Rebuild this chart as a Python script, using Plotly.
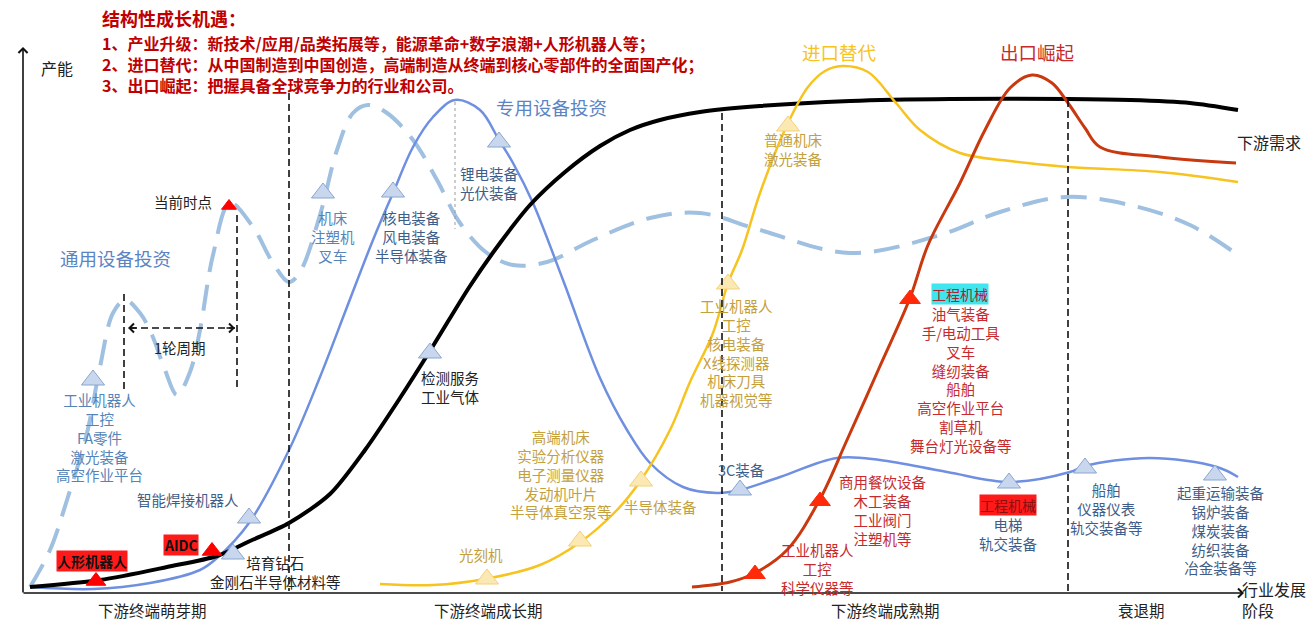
import plotly.graph_objects as go

# ---------------- curves (x: industry stage, y: capacity, screen-style units) ----------------
# downstream demand (S-curve)
demand_x = [30, 100, 167, 217, 250, 289, 330, 365, 400, 433, 470, 500, 530, 565, 600, 630, 660, 700, 760, 850,
            950, 1068, 1130, 1190, 1238]
demand_y = [587, 580, 567, 556, 541, 523, 494, 450, 398, 346, 286, 243, 205, 172, 146, 130, 120, 112, 106, 101,
            99, 99, 100, 103, 110]

# special-purpose equipment investment
special_x = [30, 93, 150, 200, 217, 249, 289, 320, 347, 373, 393, 413, 433, 455, 480, 499, 513, 533, 563, 600,
             627, 650, 683, 717, 740, 780, 837, 880, 947, 1010, 1070, 1085, 1150, 1217, 1238]
special_y = [587, 589, 583, 570, 558, 523, 450, 377, 307, 240, 193, 147, 117, 100, 110, 140, 163, 203, 280, 378,
             430, 463, 487, 493, 490, 477, 458, 460, 472, 482, 472, 466, 458, 467, 477]

# general-purpose equipment investment (cyclical)
general_x = [30, 50, 67, 87, 100, 113, 125, 140, 152, 165, 177, 190, 200, 213, 230, 253, 273, 289, 300, 320, 337,
             353, 368, 387, 413, 437, 460, 487, 513, 547, 593, 650, 700, 760, 850, 940, 1000, 1065, 1130, 1190, 1238]
general_y = [587, 550, 500, 433, 367, 313, 300, 313, 335, 370, 395, 372, 330, 255, 203, 227, 263, 282, 272, 215, 150,
             113, 105, 113, 140, 180, 223, 253, 265, 262, 240, 218, 213, 230, 253, 235, 212, 197, 205, 225, 255]

# import substitution
import_x = [380, 433, 485, 540, 579, 617, 641, 670, 690, 713, 728, 742, 760, 788, 808, 825, 842, 868, 896, 920,
            960, 1010, 1068, 1160, 1238]
import_y = [584, 585, 579, 565, 543, 510, 480, 430, 382, 333, 283, 250, 193, 123, 87, 71, 66, 72, 103, 130,
            153, 161, 167, 172, 182]

# export rise
export_x = [692, 730, 755, 787, 820, 847, 880, 910, 928, 960, 985, 1010, 1032, 1052, 1068, 1085, 1100, 1160, 1236]
export_y = [587, 582, 573, 550, 499, 440, 366, 298, 245, 183, 130, 88, 75, 83, 103, 128, 147, 157, 163]

# ---------------- stages ----------------
stage_bounds = [289, 722, 1068]
stage_bound_top = [93, 113, 100]
stage_names = ["下游终端萌芽期", "下游终端成长期", "下游终端成熟期", "衰退期"]
stage_label_x = [152, 488, 885, 1141]

# ---------------- marked industries ----------------
blue_tri_x = [93, 249, 233, 323, 393, 499, 430, 740, 1009, 1085, 1215]
blue_tri_y = [380, 518, 554, 193, 192, 142, 353, 490, 483, 468, 475]

yellow_tri_x = [487, 580, 641, 728, 788]
yellow_tri_y = [579, 541, 481, 284, 126]

export_tri_x = [755, 820, 910]
export_tri_y = [574, 501, 299]

hot_tri_x = [96, 212, 229]
hot_tri_y = [581, 551, 206]

# label blocks: (x, y, lines)
blue_light_labels = [
    (99, 437, ["工业机器人", "工控", "FA零件", "激光装备", "高空作业平台"]),
    (333, 236, ["机床", "注塑机", "叉车"]),
]
blue_dark_labels = [
    (188, 499, ["智能焊接机器人"]),
    (411, 236, ["核电装备", "风电装备", "半导体装备"]),
    (489, 183, ["锂电装备", "光伏装备"]),
    (741, 469, ["3C装备"]),
    (1008, 534, ["电梯", "轨交装备"]),
    (1106, 508, ["船舶", "仪器仪表", "轨交装备等"]),
    (1221, 530, ["起重运输装备", "锅炉装备", "煤炭装备", "纺织装备", "冶金装备等"]),
]
dark_labels = [
    (275, 572, ["培育钻石", "金刚石半导体材料等"]),
    (450, 387, ["检测服务", "工业气体"]),
    (183, 201, ["当前时点"]),
    (180, 347, ["1轮周期"]),
]
import_labels = [
    (481, 554, ["光刻机"]),
    (561, 474, ["高端机床", "实验分析仪器", "电子测量仪器", "发动机叶片", "半导体真空泵等"]),
    (660, 506, ["半导体装备"]),
    (736, 352, ["工业机器人", "工控", "核电装备", "X线探测器", "机床刀具", "机器视觉等"]),
    (793, 149, ["普通机床", "激光装备"]),
]
export_labels = [
    (817, 568, ["工业机器人", "工控", "科学仪器等"]),
    (883, 510, ["商用餐饮设备", "木工装备", "工业阀门", "注塑机等"]),
    (961, 379, ["油气装备", "手/电动工具", "叉车", "缝纫装备", "船舶", "高空作业平台", "割草机", "舞台灯光设备等"]),
]
# highlighted tags: (x, y, text, background, text colour, bold)
tags = [
    (92, 561, "人形机器人", "#ff1a1a", "#111111", True),
    (181, 545, "AIDC", "#ff1a1a", "#111111", True),
    (1008, 505, "工程机械", "#ff1a1a", "#8a1010", False),
    (960, 294, "工程机械", "#3fe6f0", "#b0202a", False),
]

headline = "结构性成长机遇："
points = [
    "1、产业升级：新技术/应用/品类拓展等，能源革命+数字浪潮+人形机器人等；",
    "2、进口替代：从中国制造到中国创造，高端制造从终端到核心零部件的全面国产化；",
    "3、出口崛起：把握具备全球竞争力的行业和公司。",
]

FONT = "Noto Sans CJK SC"
C_BLACK = "#000000"
C_SPECIAL = "#6f8fe0"
C_GENERAL = "#9fc0e0"
C_IMPORT = "#f7c31f"
C_EXPORT = "#c9380e"
C_RED_TXT = "#c62a2c"
C_GOLD_TXT = "#c4a03c"
C_BLUE_L = "#5584b8"
C_BLUE_D = "#3e5d88"
C_HEAD_BLUE = "#5b84c4"
LABEL_SIZE = 14.5

fig = go.Figure()


def curve(x, y, color, width, dash=None, smoothing=1.0):
    fig.add_trace(go.Scatter(
        x=x, y=y, mode="lines", hoverinfo="skip",
        line=dict(color=color, width=width, shape="spline", smoothing=smoothing, dash=dash),
    ))


curve(general_x, general_y, C_GENERAL, 4, dash="26px,13px")
curve(special_x, special_y, C_SPECIAL, 2.5)
curve(demand_x, demand_y, C_BLACK, 4, smoothing=0.8)
curve(import_x, import_y, C_IMPORT, 2.5)
curve(export_x, export_y, C_EXPORT, 3)


def triangles(x, y, fill, edge, size):
    fig.add_trace(go.Scatter(
        x=x, y=y, mode="markers", hoverinfo="skip",
        marker=dict(symbol="triangle-up", size=size, color=fill, line=dict(color=edge, width=1)),
    ))


triangles(blue_tri_x, blue_tri_y, "#c8d7ee", "#8aa6cf", 20)
triangles(yellow_tri_x, yellow_tri_y, "#fbe8b2", "#f2d27a", 20)
triangles(export_tri_x, export_tri_y, "#ff2a0a", "#ff2a0a", 18)
triangles(hot_tri_x[:2], hot_tri_y[:2], "#ff0000", "#ff0000", 17)
triangles(hot_tri_x[2:], hot_tri_y[2:], "#ff0000", "#ff0000", 13)

# stage dividers
for bx, top in zip(stage_bounds, stage_bound_top):
    fig.add_shape(type="line", x0=bx, x1=bx, y0=top, y1=591,
                  line=dict(color="#111111", width=1.6, dash="7px,4px"))
# peak marker of special-purpose investment
fig.add_shape(type="line", x0=455, x1=455, y0=102, y1=229,
              line=dict(color="#9a9a9a", width=1, dash="3px,3px"))
# one-cycle markers
fig.add_shape(type="line", x0=124, x1=124, y0=294, y1=389,
              line=dict(color="#111111", width=1.6, dash="7px,4px"))
fig.add_shape(type="line", x0=237, x1=237, y0=215, y1=389,
              line=dict(color="#111111", width=1.6, dash="7px,4px"))
fig.add_shape(type="line", x0=130, x1=235, y0=328, y1=328,
              line=dict(color="#111111", width=1.6, dash="7px,4px"))
for tip, tail in [(128, 138), (235, 225)]:
    fig.add_annotation(x=tip, y=328, ax=tail, ay=328, axref="x", ayref="y", text="",
                       showarrow=True, arrowhead=4, arrowsize=1.1, arrowwidth=1.6, arrowcolor="#111111")

# axes with arrows
fig.add_annotation(x=23, y=47, ax=23, ay=594, axref="x", ayref="y", text="",
                   showarrow=True, arrowhead=4, arrowsize=1.1, arrowwidth=1.6, arrowcolor="#111111")
fig.add_annotation(x=1244, y=593, ax=22, ay=593, axref="x", ayref="y", text="",
                   showarrow=True, arrowhead=4, arrowsize=1.1, arrowwidth=1.6, arrowcolor="#111111")


def text(x, y, s, color, size=LABEL_SIZE, xanchor="center", align="center", bold=False, **kw):
    if bold:
        s = "<b>" + s + "</b>"
    fig.add_annotation(x=x, y=y, text=s, showarrow=False, xanchor=xanchor, yanchor="middle",
                       align=align, font=dict(family=FONT, size=size, color=color), **kw)


for group, color in [(blue_light_labels, C_BLUE_L), (blue_dark_labels, C_BLUE_D),
                     (dark_labels, "#222222"), (import_labels, C_GOLD_TXT), (export_labels, C_RED_TXT)]:
    for x, y, lines in group:
        text(x, y, "<br>".join(lines), color)

for x, y, s, bg, fg, bold in tags:
    text(x, y, s, fg, size=14, bold=bold, bgcolor=bg, borderpad=0)

# curve titles
text(115, 258, "通用设备投资", C_HEAD_BLUE, size=18.5)
text(551, 107, "专用设备投资", C_HEAD_BLUE, size=18.5)
text(839, 52, "进口替代", C_IMPORT, size=18.5)
text(1037, 52, "出口崛起", C_RED_TXT, size=18.5)
text(1235, 142, "下游需求", "#222222", size=16, xanchor="left")

# axis titles
text(57, 68, "产能", "#222222", size=16)
text(1240, 599, "行业发展<br>阶段", "#222222", size=16, xanchor="left", align="left")
for sx, name in zip(stage_label_x, stage_names):
    text(sx, 610, name, "#222222", size=15.5)

# headline block
text(100, 18, headline, "#c00000", size=18, xanchor="left", align="left", bold=True)
text(100, 63.5, "<br>".join(points), "#c00000", size=16, xanchor="left", align="left", bold=True)

fig.update_layout(
    width=1306, height=621,
    margin=dict(l=0, r=0, t=0, b=0),
    paper_bgcolor="white", plot_bgcolor="white",
    showlegend=False,
    xaxis=dict(range=[0, 1306], visible=False, fixedrange=True),
    yaxis=dict(range=[621, 0], visible=False, fixedrange=True),
)

fig.write_html("out.html")
